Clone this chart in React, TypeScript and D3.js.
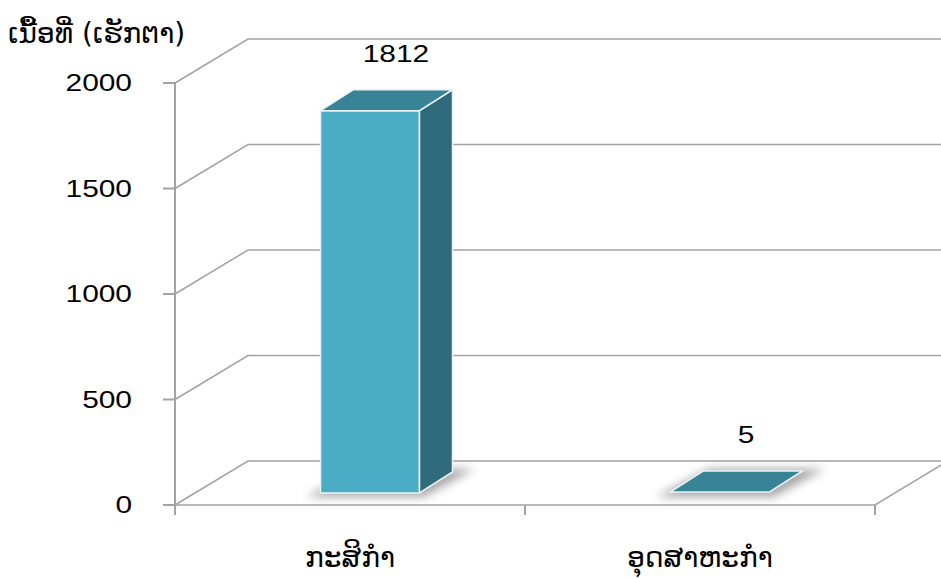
import React from "react";
import * as d3 from "d3";

const categories = ["ກະສິກຳ", "ອຸດສາຫະກຳ"];
const values = [1812, 5];
const yTicks = [0, 500, 1000, 1500, 2000];
const yTitle = "ເນື້ອທີ່ (ເຮັກຕາ)";

const W = 941;
const H = 579;
const laoFont = "'DejaVu Sans', 'Noto Sans', sans-serif";
const numFont = "'Liberation Sans', Arial, sans-serif";

function T(props: {
  x: number;
  y: number;
  anchor?: "start" | "middle" | "end";
  font: string;
  size: number;
  sx?: number;
  children: React.ReactNode;
}) {
  return (
    <text
      transform={`translate(${props.x},${props.y}) scale(${props.sx ?? 1},1)`}
      textAnchor={props.anchor || "start"}
      fontFamily={props.font}
      fontSize={props.size}
      fill="#000"
    >
      {props.children}
    </text>
  );
}

export default function App() {
  const y = d3.scaleLinear().domain([0, 2000]).range([505, 83]);
  const x = d3.scaleBand<string>().domain(categories).range([175, 875]).padding(0);
  const depth = { dx: 73, dy: -44 };
  const barOff = { dx: 20, dy: -12 };
  const barDepth = { dx: 33, dy: -21 };
  const barW = 99;
  const grid = "#a3a3a3";
  const line = d3.line();

  return (
    <svg width={W} height={H} style={{ position: "absolute", left: 0, top: 0, background: "#fff" }}>
      <defs>
        <filter id="shadow" x="-30%" y="-30%" width="160%" height="160%">
          <feGaussianBlur stdDeviation="5" />
        </filter>
      </defs>
      {yTicks.map((t) => (
        <path
          key={"g" + t}
          d={line([
            [175, y(t)],
            [175 + depth.dx, y(t) + depth.dy],
            [W + 5, y(t) + depth.dy],
          ]) || ""}
          fill="none"
          stroke={grid}
          strokeWidth={1.5}
        />
      ))}
      <path
        d={line([
          [175, y(0)],
          [875, y(0)],
          [875 + depth.dx, y(0) + depth.dy],
        ]) || ""}
        fill="none"
        stroke={grid}
        strokeWidth={1.5}
      />
      <line x1={175} x2={175} y1={y(2000)} y2={y(0) + 10} stroke={grid} strokeWidth={2} />
      {yTicks.map((t) => (
        <line key={"t" + t} x1={163} x2={175} y1={y(t)} y2={y(t)} stroke={grid} strokeWidth={2} />
      ))}
      {[175, 525, 875].map((px) => (
        <line key={"b" + px} x1={px} x2={px} y1={y(0)} y2={y(0) + 10} stroke={grid} strokeWidth={2} />
      ))}
      {yTicks.map((t) => (
        <T key={"l" + t} x={132} y={y(t) + 8} anchor="end" font={numFont} size={23} sx={1.3}>
          {t}
        </T>
      ))}
      <T x={8} y={43} font={laoFont} size={28}>
        {yTitle}
      </T>
      {categories.map((c, i) => {
        const v = values[i];
        const cx = (x(c) || 0) + x.bandwidth() / 2;
        const x0 = cx + barOff.dx - barW / 2;
        const x1 = x0 + barW;
        const yb = y(0) + barOff.dy;
        const yt = y(v) + barOff.dy;
        const bx = barDepth.dx;
        const by = barDepth.dy;
        const front = line([[x0, yt], [x1, yt], [x1, yb], [x0, yb]]) + "Z";
        const side = line([[x1, yt], [x1 + bx, yt + by], [x1 + bx, yb + by], [x1, yb]]) + "Z";
        const top = line([[x0, yt], [x0 + bx, yt + by], [x1 + bx, yt + by], [x1, yt]]) + "Z";
        const shadow =
          line([
            [x0 - 14, yb + 4],
            [x0 + bx + 6, yb + by - 3],
            [x1 + bx + 22, yb + by - 3],
            [x1 + 4, yb + 4],
          ]) + "Z";
        return (
          <g key={c}>
            <path d={shadow} fill="#8a8a8a" opacity={0.75} filter="url(#shadow)" />
            {yb - yt > 2 && <path d={front} fill="#4bacc6" stroke="#eaf4f7" strokeWidth={1.5} />}
            {yb - yt > 2 && <path d={side} fill="#2f6b7b" stroke="#eaf4f7" strokeWidth={1.5} />}
            <path d={top} fill="#388396" stroke="#eaf4f7" strokeWidth={1.5} />
            <T x={cx + barOff.dx + 26} y={yt - 49} anchor="middle" font={numFont} size={23} sx={1.3}>
              {v}
            </T>
            <T x={cx} y={567} anchor="middle" font={laoFont} size={28}>
              {c}
            </T>
          </g>
        );
      })}
    </svg>
  );
}
